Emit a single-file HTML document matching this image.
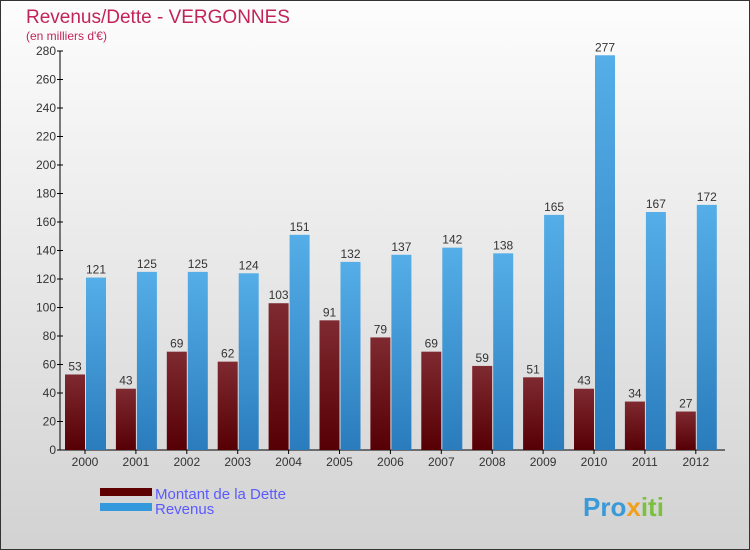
<!DOCTYPE html>
<html><head><meta charset="utf-8"><style>
body{margin:0;}
#wrap{width:750px;height:550px;position:relative;overflow:hidden;}
svg{display:block;font-family:"Liberation Sans",sans-serif;}
</style></head><body>
<div id="wrap">
<svg id="c" width="750" height="550">
<defs>
<linearGradient id="bg" x1="0" y1="0" x2="0" y2="1"><stop offset="0" stop-color="#fdfdfd"/><stop offset="1" stop-color="#d2d2d2"/></linearGradient>
<linearGradient id="gd" x1="0" y1="0" x2="0" y2="1"><stop offset="0" stop-color="#7f2a30"/><stop offset="1" stop-color="#560005"/></linearGradient>
<linearGradient id="gr" x1="0" y1="0" x2="0" y2="1"><stop offset="0" stop-color="#55aee8"/><stop offset="1" stop-color="#2a7cbc"/></linearGradient>
</defs>
<rect x="0.5" y="0.5" width="749" height="549" fill="url(#bg)" stroke="#333"/>
<text x="26" y="23" font-size="19" fill="#c2245a">Revenus/Dette - VERGONNES</text>
<text x="26" y="40" font-size="12" fill="#c2245a">(en milliers d'€)</text>
<g id="axes"></g>
<g id="bars"></g>
<rect x="100" y="488" width="52" height="8" fill="#5e0000"/>
<text x="155" y="499" font-size="15" fill="#5a5aff">Montant de la Dette</text>
<rect x="100" y="503" width="52" height="8" fill="#3498dc"/>
<text x="155" y="514" font-size="15" fill="#5a5aff">Revenus</text>
<text x="583" y="516" font-size="26" font-weight="bold" fill="#3a9ad8">Pro<tspan fill="#f0a020">x</tspan><tspan fill="#7cc040">iti</tspan></text>
</svg></div>
<script>
const years=["2000","2001","2002","2003","2004","2005","2006","2007","2008","2009","2010","2011","2012"];
const debt=[53,43,69,62,103,91,79,69,59,51,43,34,27];
const revenue=[121,125,125,124,151,132,137,142,138,165,277,167,172];
const yTicks=[0,20,40,60,80,100,120,140,160,180,200,220,240,260,280];
const NS="http://www.w3.org/2000/svg";
const y0=450,yTop=51,yMax=280,x0=60,step=50.9,first=85;
const Y=v=>y0-(v/yMax)*(y0-yTop);
const X=i=>first+i*step;
function mk(t,a,p){const e=document.createElementNS(NS,t);for(const k in a)e.setAttribute(k,a[k]);p.appendChild(e);return e;}
const ax=document.getElementById('axes'),bs=document.getElementById('bars');
const yl=mk('line',{x1:x0,y1:yTop,x2:x0,y2:y0,stroke:'#000'},ax);


const xl=mk('line',{x1:x0,y1:y0,x2:725,y2:y0,stroke:'#000'},ax);


yTicks.forEach(v=>{
 mk('line',{x1:x0-3,y1:Y(v),x2:x0+3,y2:Y(v),stroke:'#000'},ax);
 const t=mk('text',{x:x0-4,y:Y(v)+4,'font-size':12,fill:'#333','text-anchor':'end'},ax);
 t.textContent=v;
 
 
});
years.forEach((yr,i)=>{
 const cx=X(i);
 mk('line',{x1:cx,y1:y0,x2:cx,y2:y0+4,stroke:'#000'},ax);
 const t=mk('text',{x:cx,y:y0+16,'font-size':12,fill:'#333','text-anchor':'middle'},ax);
 t.textContent=yr;
 
 
 const d=mk('rect',{x:cx-20,y:Y(debt[i]),width:20,height:y0-Y(debt[i]),fill:'url(#gd)'},bs);
 
 
 const r=mk('rect',{x:cx+1,y:Y(revenue[i]),width:20,height:y0-Y(revenue[i]),fill:'url(#gr)'},bs);
 
 
 const dl=mk('text',{x:cx-10,y:Y(debt[i])-4,'font-size':12,fill:'#333','text-anchor':'middle'},bs);
 dl.textContent=debt[i];
 
 
 const rl=mk('text',{x:cx+11,y:Y(revenue[i])-4,'font-size':12,fill:'#333','text-anchor':'middle'},bs);
 rl.textContent=revenue[i];
 
 
});
</script>
</body></html>
